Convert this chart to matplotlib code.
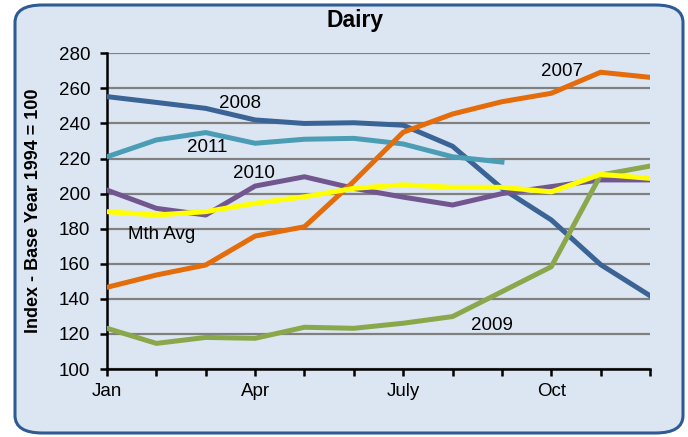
import matplotlib.pyplot as plt
from matplotlib.patches import FancyBboxPatch

months = ["Jan", "Feb", "Mar", "Apr", "May", "Jun",
          "July", "Aug", "Sep", "Oct", "Nov", "Dec"]

y2007 = [146.6, 153.6, 159.3, 175.8, 181.1, 207, 235, 245.4, 252.4, 257.2, 269.2, 266.3]
y2008 = [255.3, 252, 248.6, 242, 240, 240.4, 239, 227, 203, 185, 159.5, 141.8]
y2009 = [123.2, 114.6, 118, 117.5, 123.8, 123.2, 126.1, 129.9, 144.1, 158.3, 210.6, 215.7]
y2010 = [202, 191.6, 187.8, 204.3, 209.6, 203, 198, 193.5, 200, 204, 207.8, 207.8]
y2011 = [221, 230.6, 234.8, 228.7, 231, 231.5, 228.3, 221, 218]
mth_avg = [189.7, 187.8, 189.7, 194.5, 198.2, 203, 205, 203.6, 203.6, 201, 211, 208.7]

bg = "#dce6f2"

fig = plt.figure(figsize=(6.88, 4.37), dpi=100)
fig.patch.set_facecolor("white")

# rounded frame around the whole chart
frame = FancyBboxPatch((15 / 688, 4 / 437), 668 / 688, 428 / 437,
                       boxstyle="round,pad=0,rounding_size=0.04",
                       transform=fig.transFigure, facecolor=bg,
                       edgecolor="#2f5b94", linewidth=2.2, zorder=-5)
fig.patches.append(frame)

ax = fig.add_axes([107 / 688, 1 - 369 / 437, 543 / 688, 315.7 / 437])
ax.set_zorder(2)
ax.patch.set_alpha(0)

x = list(range(12))
lw = 3.6
ax.plot(x, y2008, color="#3a6496", lw=lw, zorder=3)
ax.plot(x[:len(y2011)], y2011, color="#4a9db4", lw=lw, zorder=3)
ax.plot(x, y2010, color="#72568f", lw=lw, zorder=3)
ax.plot(x, y2007, color="#e46c0a", lw=lw, zorder=4)
ax.plot(x, y2009, color="#8aa84b", lw=lw, zorder=5)
ax.plot(x, mth_avg, color="#ffff00", lw=lw, zorder=6)

ax.set_xlim(0, 11)
ax.set_ylim(100, 280)
ax.set_yticks(range(100, 281, 20))
ax.set_xticks(x)
ax.set_xticklabels([m if i % 3 == 0 else "" for i, m in enumerate(months)])
ax.yaxis.grid(True, color="#808080", lw=1.6)
ax.set_axisbelow(True)

for s in ["top", "right"]:
    ax.spines[s].set_visible(False)
for s in ["left", "bottom"]:
    ax.spines[s].set_linewidth(1.8)
    ax.spines[s].set_color("black")
ax.tick_params(axis="both", direction="out", length=5, width=1.8,
               labelsize=13.5, pad=5)
ax.tick_params(axis="y", pad=7)

font = "Liberation Sans"
for lab in ax.get_xticklabels() + ax.get_yticklabels():
    lab.set_family(font)

ax.set_ylabel("Index - Base Year 1994 = 100", family=font, fontsize=13,
              fontweight="bold", labelpad=12)
fig.text(355 / 688, 1 - 20 / 437, "Dairy", family=font, fontsize=16.5,
         fontweight="bold", ha="center", va="center")

labels = [("2008", 240, 103), ("2011", 207, 147), ("2010", 254, 174),
          ("Mth Avg", 162, 234), ("2007", 562, 71), ("2009", 492, 326)]
for txt, px, py in labels:
    fig.text(px / 688, 1 - py / 437, txt, family=font, fontsize=13.5,
             ha="center", va="center", zorder=10)

fig.savefig("out.png", dpi=100)
